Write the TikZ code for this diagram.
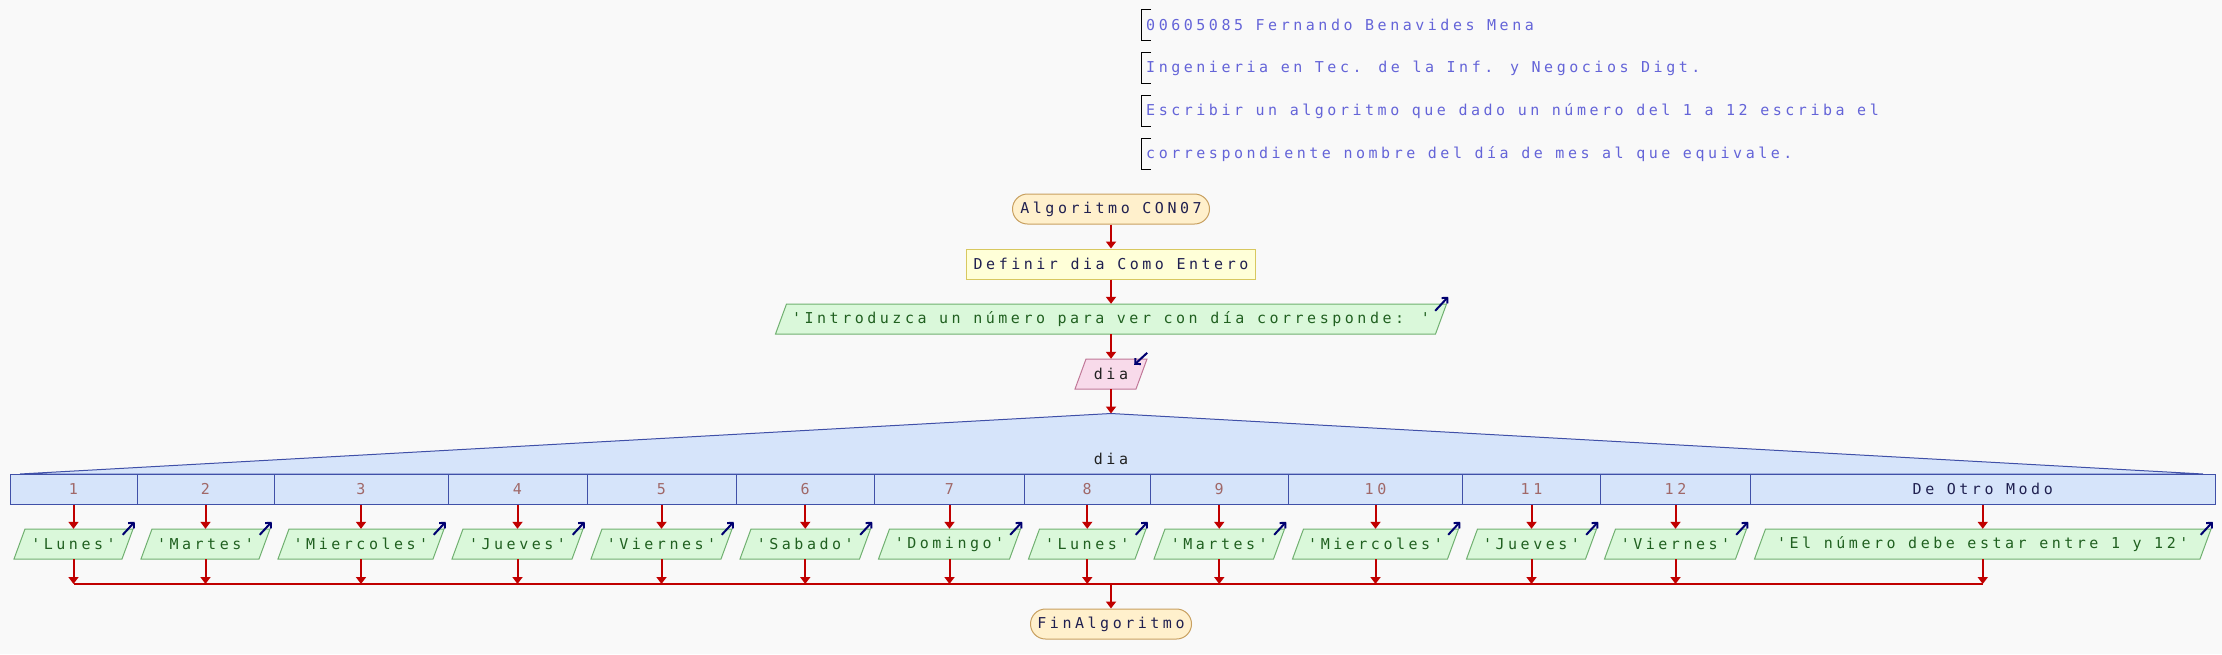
\documentclass[tikz,border=0pt]{standalone}
\usepackage{fontspec}
\newfontfamily\pfont[LetterSpace=23.5]{DejaVu Sans Mono}
\usetikzlibrary{arrows.meta}
\definecolor{bg}{HTML}{F9F9F9}
\definecolor{flowc}{HTML}{C00000}
\definecolor{iconc}{HTML}{000070}
\definecolor{termfill}{HTML}{FFF0CC}
\definecolor{termdraw}{HTML}{C8A060}
\definecolor{deffill}{HTML}{FFFFD8}
\definecolor{defdraw}{HTML}{D8C860}
\definecolor{iofill}{HTML}{DAF8DA}
\definecolor{iodraw}{HTML}{70B070}
\definecolor{infill}{HTML}{F8DAEA}
\definecolor{indraw}{HTML}{C07898}
\definecolor{swfill}{HTML}{D6E4FA}
\definecolor{swdraw}{HTML}{4050A8}
\definecolor{cmtext}{HTML}{6464D8}
\definecolor{navytext}{HTML}{202050}
\definecolor{greentext}{HTML}{206020}
\definecolor{numtext}{HTML}{A06868}
\definecolor{darktext}{HTML}{202020}
\newcommand\q{\char"0027\relax}
\newcommand\ppara[7]{%
  \draw[#5] (#2-#4-5.5,#3+15) -- (#2+#4-5.5,#3+15) -- (#2+#4+5.5,#3-15) -- (#2-#4+5.5,#3-15) -- cycle;
  \node[#6, minimum width={2*#4+11}] (#1) at (#2,#3) {#7};
}
\begin{document}
\begin{tikzpicture}[x=1pt,y=-1pt,
  base/.style={font=\pfont\fontsize{15pt}{18pt}\selectfont, inner sep=0pt, minimum height=30pt},
  term/.style={base, draw=termdraw, fill=termfill, rounded corners=15pt, line width=1pt, text=navytext},
  defbox/.style={base, draw=defdraw, fill=deffill, line width=1pt, text=navytext},
  outshape/.style={draw=iodraw, fill=iofill, line width=1pt},
  outtext/.style={base, text=greentext},
  inshape/.style={draw=indraw, fill=infill, line width=1pt},
  intext/.style={base, text=darktext},
  swshape/.style={draw=swdraw, fill=swfill, line width=1pt},
  cell/.style={base, draw=swdraw, fill=swfill, line width=1pt, text=numtext},
  flow/.style={draw=flowc, line width=2pt, -{Triangle[length=7pt,width=10pt]}},
  flowline/.style={draw=flowc, line width=2pt},
  icon/.style={draw=iconc, line width=2pt, -{Straight Barb[length=4pt,width=8pt]}},
  cmt/.style={base, text=cmtext, anchor=west},
  bracket/.style={draw=black, line width=1pt}]
\useasboundingbox (0,0) rectangle (2222,654);
\fill[bg] (0,0) rectangle (2222,654);
% comments
\node[cmt] (cm1) at (1146,25) {00605085 Fernando Benavides Mena};
\node[cmt] (cm2) at (1146,68) {Ingenieria en Tec. de la Inf. y Negocios Digt.};
\node[cmt] (cm3) at (1146,111) {Escribir un algoritmo que dado un número del 1 a 12 escriba el};
\node[cmt] (cm4) at (1146,154) {correspondiente nombre del día de mes al que equivale.};
\foreach \c in {cm1,cm2,cm3,cm4}
  \draw[bracket] ([xshift=5pt]\c.north west) -- ([xshift=-5pt]\c.north west) -- ([xshift=-5pt]\c.south west) -- ([xshift=5pt]\c.south west);
% main flow
\node[term, minimum width=197pt] (start) at (1111,209) {Algoritmo CON07};
\node[defbox, minimum width=289pt] (def) at (1111,264) {Definir dia Como Entero};
\ppara{prompt}{1111}{319}{330}{outshape}{outtext}{\q Introduzca un número para ver con día corresponde: \q}
\ppara{din}{1111}{374}{30.5}{inshape}{intext}{dia}
\draw[icon] ([shift={(-11.5,7)}]prompt.north east) -- ([shift={(1.5,-7)}]prompt.north east);
\draw[icon] ([shift={(0,-6)}]din.north east) -- ([shift={(-13,6)}]din.north east);
\coordinate (apex) at (1111,413.5);
\filldraw[swshape] (20,474) -- (apex) -- (2203,474) -- cycle;
\node[base, text=darktext, minimum height=0pt] (swlab) at (1111,459) {dia};
\draw[flow] (start.south) -- (def.north);
\draw[flow] (def.south) -- (prompt.north);
\draw[flow] (prompt.south) -- (din.north);
\draw[flow] (din.south) -- (apex);
% cells
\foreach \i/\cx/\cw/\lab in {1/73.5/127/1, 2/205.5/137/2, 3/361/174/3, 4/517.5/139/4, 5/661.5/149/5, 6/805.25/138.5/6, 7/949.5/150/7, 8/1087.25/125.5/8, 9/1219.25/138.5/9, 10/1375.5/174/10, 11/1531.5/138/11, 12/1675.5/150/12}
  \node[cell, minimum width=\cw pt] (c\i) at (\cx,489) {\lab};
\node[cell, minimum width=464.5pt, text=navytext] (c13) at (1982.75,489) {De Otro Modo};
% outputs
\foreach \i/\cx/\hw/\txt in {1/73.5/54/Lunes, 2/205.5/59/Martes, 3/361/77.5/Miercoles, 4/517.5/60/Jueves, 5/661.5/65/Viernes, 6/805.25/59.75/Sabado, 7/949.5/65.5/Domingo, 8/1087.25/53.25/Lunes, 9/1219.25/59.75/Martes, 10/1375.5/77.5/Miercoles, 11/1531.5/59.5/Jueves, 12/1675.5/65.5/Viernes}
  {\ppara{o\i}{\cx}{544}{\hw}{outshape}{outtext}{\q\txt\q}}
\ppara{o13}{1982.75}{544}{222.75}{outshape}{outtext}{\q El número debe estar entre 1 y 12\q}
\foreach \i in {1,...,13} {
  \draw[icon] ([shift={(-10.5,6)}]o\i.north east) -- ([shift={(1.5,-7)}]o\i.north east);
  \draw[flow] (c\i.south) -- (o\i.north);
}
% collector
\coordinate (jL) at (73.5,584);
\coordinate (jR) at (1982.75,584);
\coordinate (jM) at (1111,584);
\foreach \i in {1,...,13}
  \draw[flow] (o\i.south) -- (o\i.south |- jL);
\draw[flowline] (jL) -- (jR);
\node[term, minimum width=161pt] (fin) at (1111,624) {FinAlgoritmo};
\draw[flow] (jM) -- (fin.north);
\end{tikzpicture}
\end{document}
